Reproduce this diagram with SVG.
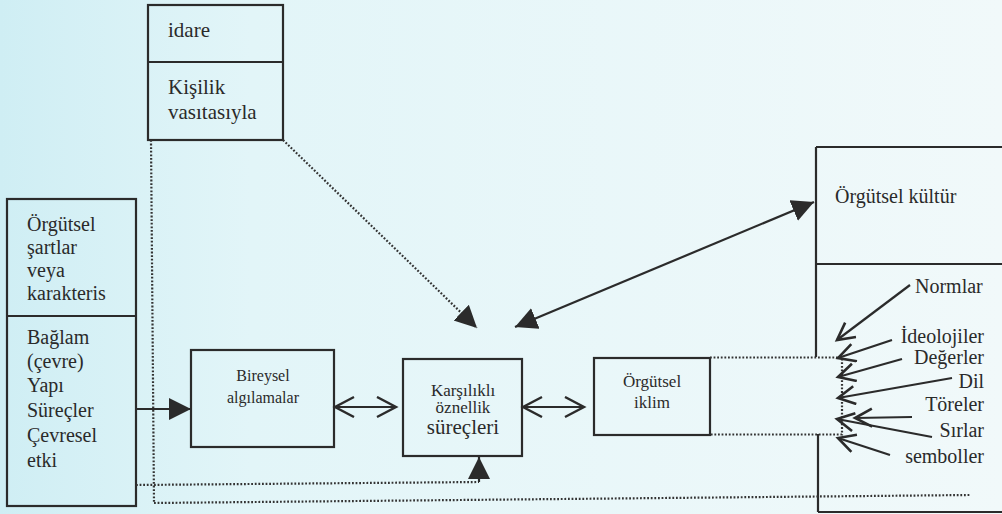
<svg xmlns="http://www.w3.org/2000/svg" width="1002" height="514" viewBox="0 0 1002 514">
<style>
.box{fill:none;stroke:#2b2b2b;stroke-width:2.2}
.ln{fill:none;stroke:#2b2b2b;stroke-width:2.2}
.dot{fill:none;stroke:#333;stroke-width:2.2;stroke-dasharray:1.8 1.8}
.t{font-family:"Liberation Serif","DejaVu Serif","Times New Roman",serif;fill:#2a2a2a}
.t21{font-size:21px}
.t20{font-size:20px}
.t16{font-size:16px}
.t17{font-size:17px}
.end{text-anchor:end}
.mid{text-anchor:middle}
</style>
<defs>
<linearGradient id="bg" x1="0" y1="0" x2="1" y2="0">
<stop offset="0" stop-color="#cfeef4"/>
<stop offset="0.25" stop-color="#e2f5f8"/>
<stop offset="1" stop-color="#f1f9fa"/>
</linearGradient>
<marker id="fa" markerUnits="userSpaceOnUse" markerWidth="24" markerHeight="24" refX="22" refY="11" orient="auto-start-reverse">
<path d="M0,0 L22,11 L0,22 z" fill="#2b2b2b"/>
</marker>
<marker id="ov" markerUnits="userSpaceOnUse" markerWidth="26" markerHeight="26" refX="21" refY="11" orient="auto-start-reverse">
<path d="M2,1 L21,11 L2,21" fill="none" stroke="#2b2b2b" stroke-width="2.4"/>
</marker>
<marker id="ov2" markerUnits="userSpaceOnUse" markerWidth="24" markerHeight="24" refX="19" refY="10" orient="auto">
<path d="M2,1 L19,10 L2,19" fill="none" stroke="#2b2b2b" stroke-width="2.6"/>
</marker>
</defs>
<rect x="0" y="0" width="1002" height="514" fill="url(#bg)"/>

<g id="node-idare">
<rect class="box" x="148" y="5" width="135" height="135"/>
<line class="ln" x1="148" y1="62" x2="283" y2="62"/>
<text class="t t21" x="168" y="37">idare</text>
<text class="t t21" x="168" y="94">Kişilik</text>
<text class="t t21" x="168" y="119">vasıtasıyla</text>
</g>

<g id="node-orgutsel-sartlar">
<rect class="box" x="7" y="199" width="129" height="307"/>
<line class="ln" x1="7" y1="316" x2="136" y2="316"/>
<text class="t t20" x="27" y="231">Örgütsel</text>
<text class="t t20" x="27" y="254">şartlar</text>
<text class="t t20" x="27" y="277">veya</text>
<text class="t t20" x="27" y="300">karakteris</text>
<text class="t t20" x="27" y="344">Bağlam</text>
<text class="t t20" x="27" y="368">(çevre)</text>
<text class="t t20" x="27" y="392">Yapı</text>
<text class="t t20" x="27" y="417">Süreçler</text>
<text class="t t20" x="27" y="442">Çevresel</text>
<text class="t t20" x="27" y="467">etki</text>
</g>

<g id="node-bireysel">
<rect class="box" x="191" y="350" width="143" height="97"/>
<text class="t t16 mid" x="263" y="381">Bireysel</text>
<text class="t t16 mid" x="263" y="403">algılamalar</text>
</g>

<g id="node-karsilikli">
<rect class="box" x="403" y="359" width="119" height="97"/>
<text class="t t17 mid" x="463" y="396">Karşılıklı</text>
<text class="t t17 mid" x="463" y="413">öznellik</text>
<text class="t t21 mid" x="463" y="434">süreçleri</text>
</g>

<g id="node-iklim">
<rect class="box" x="594" y="358" width="116" height="77"/>
<text class="t t17 mid" x="652" y="387">Örgütsel</text>
<text class="t t17 mid" x="652" y="408">iklim</text>
<path class="dot" d="M710,357.5 H842 V434.5 H710"/>
</g>

<g id="node-kultur">
<path class="ln" d="M816,147 H1010 M816,264 H1010 M818,512 H1010 M816,147 V357 M818,434 V512"/>
<text class="t t20" x="835" y="203">Örgütsel kültür</text>
<text class="t t20" x="915" y="293">Normlar</text>
<text class="t t20 end" x="984" y="343">İdeolojiler</text>
<text class="t t20 end" x="984" y="364">Değerler</text>
<text class="t t20 end" x="984" y="388">Dil</text>
<text class="t t20 end" x="984" y="411">Töreler</text>
<text class="t t20 end" x="984" y="437">Sırlar</text>
<text class="t t20 end" x="984" y="463">semboller</text>
</g>

<g id="connectors">
<line class="ln" x1="136" y1="409" x2="191" y2="409" marker-end="url(#fa)"/>
<line class="ln" x1="335" y1="407" x2="396" y2="407" marker-start="url(#ov)" marker-end="url(#ov)"/>
<line class="ln" x1="523" y1="407" x2="584" y2="407" marker-start="url(#ov)" marker-end="url(#ov)"/>
<line class="dot" x1="283" y1="140" x2="477" y2="328" marker-end="url(#fa)"/>
<line class="ln" x1="515" y1="327" x2="814" y2="202" marker-start="url(#fa)" marker-end="url(#fa)"/>
<line class="dot" x1="151" y1="140" x2="154" y2="503"/>
<line class="dot" x1="154" y1="503" x2="970" y2="495"/>
<line class="dot" x1="136" y1="485" x2="479" y2="482"/>
<line class="ln" x1="479" y1="482" x2="479" y2="457" marker-end="url(#fa)"/>
<line class="ln" x1="910" y1="285" x2="837" y2="340" marker-end="url(#ov2)"/>
<line class="ln" x1="892" y1="340" x2="838" y2="358" marker-end="url(#ov2)"/>
<line class="ln" x1="902" y1="359" x2="838" y2="377" marker-end="url(#ov2)"/>
<line class="ln" x1="952" y1="378" x2="838" y2="398" marker-end="url(#ov2)"/>
<line class="ln" x1="912" y1="417" x2="855" y2="418" marker-end="url(#ov2)"/>
<line class="ln" x1="932" y1="437" x2="837" y2="419" marker-end="url(#ov2)"/>
<line class="ln" x1="890" y1="455" x2="838" y2="438" marker-end="url(#ov2)"/>
</g>
</svg>
